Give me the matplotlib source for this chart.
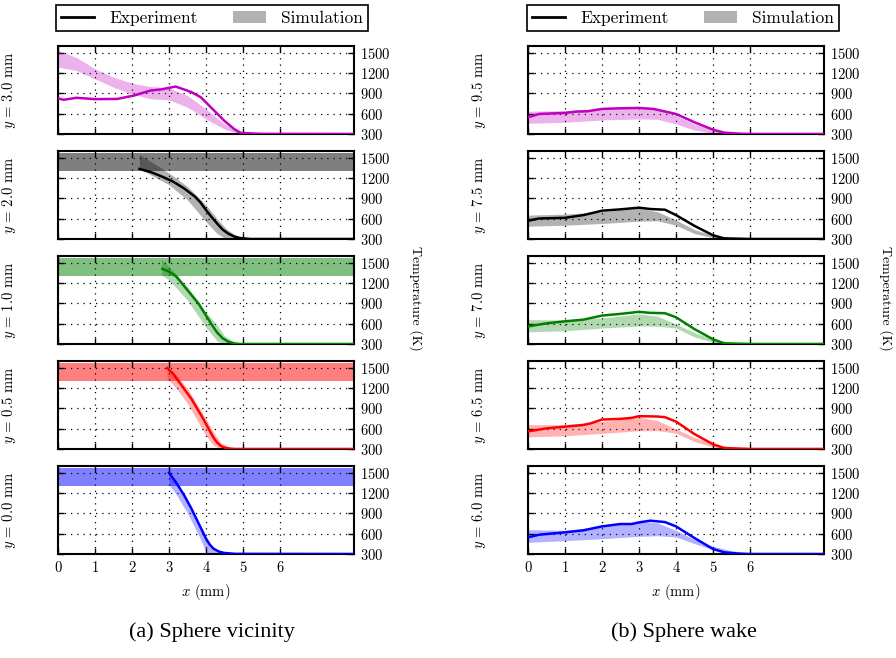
import matplotlib
matplotlib.use("Agg")
import matplotlib.pyplot as plt
from matplotlib.lines import Line2D
from matplotlib.patches import Patch

plt.rcParams['font.family'] = ['cmr10', 'DejaVu Serif']
plt.rcParams['mathtext.fontset'] = 'cm'
plt.rcParams['axes.formatter.use_mathtext'] = True

# ---------------- data ----------------
# Left column: sphere vicinity
vic_labels = ["3.0", "2.0", "1.0", "0.5", "0.0"]
vic_colors = ["#bf00bf", "black", "#008000", "red", "blue"]
vic_has_band = [False, True, True, True, True]

vic_exp_x = [
    [0, 0.15, 0.5, 1.0, 1.6, 2.05, 2.5, 2.77, 3.18, 3.36, 3.6, 3.86, 4.13, 4.49, 4.76, 4.94, 5.5, 8.0],
    [2.2, 2.5, 2.8, 3.1, 3.4, 3.7, 3.85, 4.0, 4.15, 4.3, 4.45, 4.6, 4.75, 4.9, 5.2, 8.0],
    [2.82, 3.0, 3.2, 3.5, 3.8, 4.0, 4.15, 4.3, 4.45, 4.6, 4.75, 4.9, 8.0],
    [2.95, 3.1, 3.3, 3.6, 3.9, 4.1, 4.2, 4.3, 4.4, 4.5, 4.65, 4.8, 8.0],
    [3.0, 3.2, 3.4, 3.6, 3.8, 4.0, 4.1, 4.2, 4.35, 4.5, 4.8, 8.0],
]
vic_exp_T = [
    [828, 805, 835, 815, 818, 868, 942, 957, 1001, 967, 920, 843, 695, 498, 374, 315, 302, 300],
    [1335, 1290, 1225, 1151, 1051, 927, 840, 728, 625, 529, 440, 380, 340, 315, 300, 300],
    [1410, 1370, 1295, 1095, 895, 720, 590, 470, 385, 335, 310, 300, 300],
    [1495, 1420, 1270, 1045, 770, 570, 470, 395, 345, 320, 305, 300, 300],
    [1499, 1350, 1176, 977, 753, 529, 440, 380, 335, 315, 302, 300],
]
vic_sim_x = [
    [0, 0.5, 1.0, 1.5, 2.0, 2.5, 3.0, 3.5, 4.0, 4.5, 4.8, 5.0, 5.5, 6.0, 8.0],
    [2.2, 2.5, 3.0, 3.5, 4.0, 4.3, 4.5, 4.6, 4.8, 5.2, 8.0],
    [2.8, 3.0, 3.5, 4.0, 4.3, 4.5, 4.8, 5.2, 8.0],
    [2.95, 3.2, 3.5, 4.0, 4.2, 4.4, 4.7, 8.0],
    [3.0, 3.2, 3.5, 3.8, 4.0, 4.1, 4.3, 4.6, 8.0],
]
vic_sim_hi = [
    [1535, 1430, 1263, 1140, 1050, 1001, 981, 868, 670, 448, 360, 335, 305, 300, 300],
    [1549, 1449, 1275, 1076, 802, 600, 479, 430, 355, 305, 300],
    [1545, 1445, 1145, 770, 580, 420, 320, 300, 300],
    [1505, 1395, 1195, 745, 550, 395, 310, 300],
    [1524, 1350, 1076, 720, 504, 440, 355, 300, 300],
]
vic_sim_lo = [
    [1288, 1238, 1115, 991, 893, 819, 804, 695, 522, 374, 315, 305, 300, 300, 300],
    [1335, 1250, 1101, 877, 554, 380, 315, 305, 300, 300, 300],
    [1320, 1245, 945, 545, 345, 300, 300, 300, 300],
    [1345, 1195, 970, 495, 355, 300, 300, 300],
    [1325, 1176, 902, 579, 330, 300, 300, 300, 300],
]
band_lo, band_hi = 1310, 1570

# Right column: sphere wake
wake_labels = ["9.5", "7.5", "7.0", "6.5", "6.0"]
wake_colors = vic_colors

wake_exp_x = [
    [0, 0.3, 1.0, 1.3, 1.6, 2.0, 2.5, 3.0, 3.4, 4.0, 4.5, 5.0, 5.3, 5.7, 6.0, 8.0],
    [0, 0.3, 1.0, 1.5, 2.0, 2.5, 3.0, 3.3, 3.7, 4.0, 4.5, 5.0, 5.3, 6.0, 8.0],
    [0, 0.5, 1.0, 1.5, 2.0, 2.5, 3.0, 3.3, 3.7, 4.0, 4.5, 5.0, 5.3, 6.0, 8.0],
    [0, 0.5, 1.0, 1.5, 1.7, 2.0, 2.5, 2.8, 3.0, 3.5, 3.7, 4.0, 4.5, 5.0, 5.3, 6.0, 8.0],
    [0, 0.3, 1.0, 1.5, 2.0, 2.5, 2.8, 3.0, 3.3, 3.7, 4.0, 4.5, 5.0, 5.3, 5.7, 6.0, 8.0],
]
wake_exp_T = [
    [547, 596, 611, 631, 636, 670, 680, 685, 670, 596, 473, 364, 320, 305, 300, 300],
    [569, 603, 613, 653, 718, 738, 763, 743, 733, 653, 494, 355, 310, 300, 300],
    [560, 605, 635, 660, 720, 745, 775, 760, 755, 695, 520, 370, 310, 300, 300],
    [560, 605, 630, 655, 680, 735, 745, 760, 785, 780, 770, 705, 520, 370, 315, 300, 300],
    [546, 585, 620, 650, 708, 743, 743, 767, 792, 772, 708, 536, 374, 325, 305, 300, 300],
]
wake_sim_x = [
    [0, 1.0, 2.0, 3.0, 3.5, 4.0, 4.5, 5.0, 5.5, 6.0, 8.0],
    [0, 1.0, 2.0, 3.0, 3.5, 4.0, 4.5, 5.0, 5.5, 6.0, 8.0],
    [0, 1.0, 2.0, 3.0, 3.5, 4.0, 4.5, 5.0, 5.5, 6.0, 8.0],
    [0, 1.0, 2.0, 3.0, 3.5, 4.0, 4.5, 5.0, 5.5, 6.0, 8.0],
    [0, 1.0, 2.0, 3.0, 3.5, 4.0, 4.5, 5.0, 5.5, 6.0, 6.5, 8.0],
]
wake_sim_hi = [
    [636, 646, 670, 695, 670, 572, 448, 359, 320, 305, 300],
    [653, 668, 703, 753, 703, 579, 439, 355, 315, 300, 300],
    [660, 655, 685, 745, 710, 595, 470, 370, 320, 300, 300],
    [660, 660, 705, 770, 720, 595, 470, 375, 325, 300, 300],
    [659, 649, 708, 782, 760, 649, 512, 413, 349, 315, 300, 300],
]
wake_sim_lo = [
    [458, 473, 507, 522, 517, 448, 359, 310, 300, 300, 300],
    [489, 504, 529, 564, 569, 504, 380, 320, 300, 300, 300],
    [480, 495, 535, 565, 563, 535, 405, 325, 300, 300, 300],
    [480, 495, 530, 570, 570, 535, 410, 330, 300, 300, 300],
    [472, 497, 526, 561, 570, 551, 453, 364, 315, 300, 300, 300],
]

y_ticks = [300, 600, 900, 1200, 1500]
x_ticks = [0, 1, 2, 3, 4, 5, 6]

# ---------------- layout ----------------
W, H = 896, 658
fig = plt.figure(figsize=(W / 100, H / 100), dpi=100)

col_left = [58, 528]
col_width = 296
row_tops = [46, 151, 256, 361, 466]
row_h = 88


def style_axes(ax, bottom):
    ax.set_xlim(0, 8)
    ax.set_ylim(300, 1600)
    ax.set_xticks(x_ticks)
    ax.set_yticks(y_ticks)
    ax.grid(True, color='black', linestyle=(0, (1, 4)), linewidth=0.9)
    ax.tick_params(direction='in', length=4, width=1, top=True, right=True,
                   left=True, bottom=True, labelleft=False, labelright=True,
                   labelbottom=bottom, labelsize=10.5, pad=4)
    for s in ax.spines.values():
        s.set_linewidth(1.5)


def draw_column(ci, labels, colors, ex, eT, sx, slo, shi, bands):
    for r in range(5):
        l = col_left[ci] / W
        b = 1 - (row_tops[r] + row_h) / H
        ax = fig.add_axes([l, b, col_width / W, row_h / H])
        c = colors[r]
        if bands[r]:
            ax.axhspan(band_lo, band_hi, color=c, alpha=0.5, linewidth=0, zorder=1)
        ax.fill_between(sx[r], slo[r], shi[r], color=c, alpha=0.3, linewidth=0, zorder=2)
        ax.plot(ex[r], eT[r], color=c, linewidth=1.8, zorder=3)
        style_axes(ax, r == 4)
        ax.set_ylabel(r'$y\,=\,$' + labels[r] + ' mm', fontsize=10.5)
        ax.yaxis.set_label_coords(-40 / col_width, 0.5)
        if r == 4:
            ax.set_xlabel(r'$x$ (mm)', fontsize=10.5, labelpad=5)


draw_column(0, vic_labels, vic_colors, vic_exp_x, vic_exp_T, vic_sim_x,
            vic_sim_lo, vic_sim_hi, vic_has_band)
draw_column(1, wake_labels, wake_colors, wake_exp_x, wake_exp_T, wake_sim_x,
            wake_sim_lo, wake_sim_hi, [False] * 5)

# Temperature labels
for xpix in [416, 886]:
    fig.text(xpix / W, 1 - 298 / H, 'Temperature (K)', rotation=-90,
             ha='center', va='center', fontsize=10)

# Legends
handles = [Line2D([0], [0], color='black', linewidth=2),
           Patch(facecolor='black', alpha=0.3, linewidth=0)]
for cx in [212, 683]:
    leg = fig.legend(handles, ['Experiment', 'Simulation'], ncol=2,
                     loc='center', bbox_to_anchor=(cx / W, 1 - 18 / H),
                     fancybox=False, edgecolor='black', framealpha=1,
                     fontsize=12.5, columnspacing=2.0, handlelength=1.9,
                     handletextpad=0.9, borderpad=0.3)
    leg.get_frame().set_linewidth(1.2)

# Captions
fig.text(212 / W, 1 - 632 / H, '(a) Sphere vicinity', ha='center', va='center',
         fontsize=16, family='Liberation Serif')
fig.text(684 / W, 1 - 632 / H, '(b) Sphere wake', ha='center', va='center',
         fontsize=16, family='Liberation Serif')

fig.savefig('out.png', dpi=100)
